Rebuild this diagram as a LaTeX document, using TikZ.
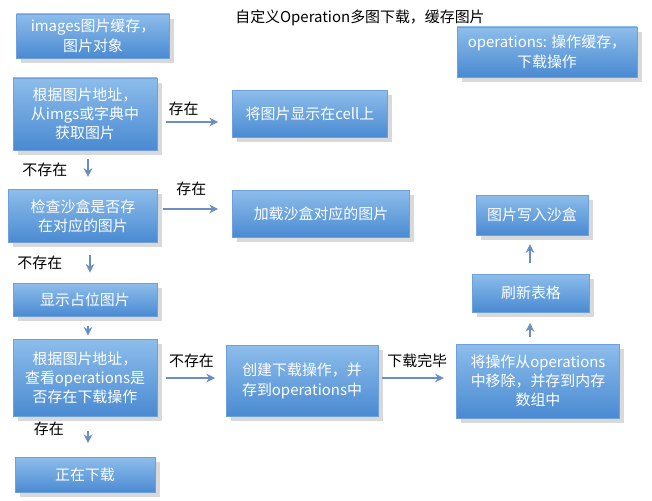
\documentclass[tikz,border=0pt]{standalone}
\usepackage{fontspec}
\setmainfont{Noto Sans CJK SC}
\usetikzlibrary{arrows.meta,shadows}
\definecolor{boxtop}{HTML}{8DBDEB}
\definecolor{boxbot}{HTML}{4A8AD2}
\definecolor{arrowc}{HTML}{6B8FC0}
\begin{document}
\begin{tikzpicture}[x=0.02cm,y=-0.02cm,
	flowbox/.style={rectangle, top color=boxtop, bottom color=boxbot, draw=boxbot!80,
		text=white, align=center, inner sep=2pt, drop shadow={opacity=0.3},
		font=\fontsize{8.5}{11}\selectfont},
	flow/.style={draw=arrowc, line width=0.9pt, -{Stealth[length=5pt,width=5pt]}},
	lbl/.style={font=\fontsize{8.5}{11}\selectfont, text=black}]
	\useasboundingbox (0,0) rectangle (652,500);

	% title
	\node[lbl] (title) at (360,18) {自定义Operation多图下载，缓存图片};

	% boxes
	\node[flowbox, minimum width=153*0.02cm, minimum height=44*0.02cm] (cache) at (93,36) {images图片缓存，\\图片对象};
	\node[flowbox, minimum width=180*0.02cm, minimum height=50*0.02cm] (ops) at (547,52) {operations: 操作缓存，\\下载操作};
	\node[flowbox, minimum width=144*0.02cm, minimum height=72*0.02cm] (fetch) at (85,114) {根据图片地址，\\从imgs或字典中\\获取图片};
	\node[flowbox, minimum width=155*0.02cm, minimum height=47*0.02cm] (show) at (310,114) {将图片显示在cell上};
	\node[flowbox, minimum width=149*0.02cm, minimum height=53*0.02cm] (sandbox) at (83,216) {检查沙盒是否存\\在对应的图片};
	\node[flowbox, minimum width=177*0.02cm, minimum height=47*0.02cm] (load) at (321,214) {加载沙盒对应的图片};
	\node[flowbox, minimum width=112*0.02cm, minimum height=40*0.02cm] (write) at (532,215) {图片写入沙盒};
	\node[flowbox, minimum width=144*0.02cm, minimum height=33*0.02cm] (holder) at (85,300) {显示占位图片};
	\node[flowbox, minimum width=117*0.02cm, minimum height=38*0.02cm] (reload) at (531,293) {刷新表格};
	\node[flowbox, minimum width=144*0.02cm, minimum height=77*0.02cm] (check) at (85,378) {根据图片地址，\\查看operations是\\否存在下载操作};
	\node[flowbox, minimum width=152*0.02cm, minimum height=71*0.02cm] (create) at (302,381) {创建下载操作，并\\存到operations中};
	\node[flowbox, minimum width=163*0.02cm, minimum height=74*0.02cm] (remove) at (538,381) {将操作从operations\\中移除，并存到内存\\数组中};
	\node[flowbox, minimum width=140*0.02cm, minimum height=35*0.02cm] (loading) at (85,475) {正在下载};

	% connectors
	\draw[flow, shorten <=5pt, shorten >=8pt] (fetch.east |- 0,122) -- node[lbl, above, pos=0.35] {存在} (show.west |- 0,122);
	\draw[flow, shorten <=5pt, shorten >=7pt] (fetch.south) ++(3,0) coordinate (f1) (f1) -- node[lbl, left=8pt] {不存在} (sandbox.north -| f1);
	\draw[flow, shorten <=3pt, shorten >=8pt] (sandbox.east |- 0,209) -- node[lbl, above=4pt, pos=0.45] {存在} (load.west |- 0,209);
	\draw[flow, shorten <=7pt, shorten >=6pt] (sandbox.south) ++(7,0) coordinate (s1) (s1) -- node[lbl, left=12pt] {不存在} (holder.north -| s1);
	\draw[flow, shorten <=5pt, shorten >=2pt] (holder.south) ++(3,0) coordinate (h1) (h1) -- (check.north -| h1);
	\draw[flow, shorten <=5pt, shorten >=6pt] (check.east |- 0,378) -- node[lbl, above=2pt] {不存在} (create.west |- 0,378);
	\draw[flow, shorten <=8pt, shorten >=8pt] (check.south) ++(3,0) coordinate (c1) (c1) -- node[lbl, left=10pt, pos=0.3] {存在} (loading.north -| c1);
	\draw[flow, shorten <=2pt, shorten >=7pt] (create.east |- 0,378) -- node[lbl, above=2pt] {下载完毕} (remove.west |- 0,378);
	\draw[flow, shorten <=4pt, shorten >=6pt] (remove.north) ++(-8,0) coordinate (r1) (r1) -- (reload.south -| r1);
	\draw[flow, shorten <=6pt, shorten >=5pt] (reload.north) ++(-1,0) coordinate (r2) (r2) -- (write.south -| r2);
\end{tikzpicture}
\end{document}
